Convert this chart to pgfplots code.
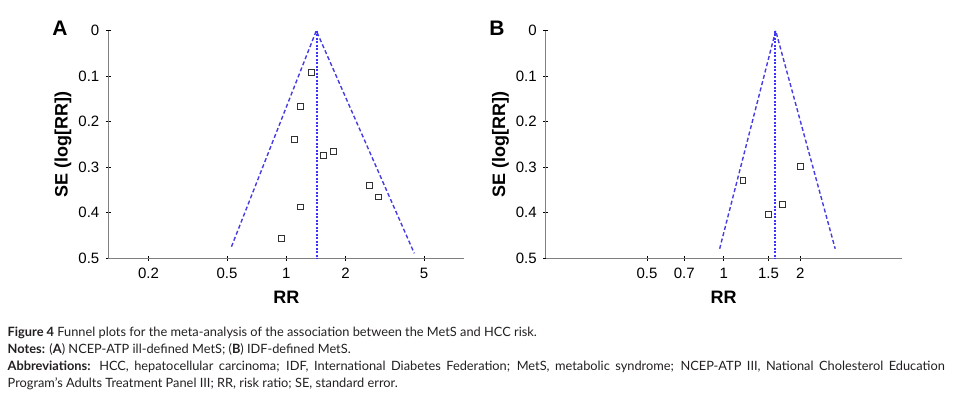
\documentclass[border=0pt]{standalone}
\usepackage{pgfplots}
\pgfplotsset{compat=1.18}
\usepackage{fontspec}
\setmainfont{Liberation Sans}
\newfontfamily\capfont{Lato}
\definecolor{funnelcol}{RGB}{70,60,225}
\definecolor{centercol}{RGB}{60,50,255}
\definecolor{axgray}{RGB}{128,128,128}
\definecolor{mk}{RGB}{50,50,50}
\definecolor{captxt}{RGB}{35,31,32}

\begin{document}
\begin{tikzpicture}
\path[use as bounding box] (0pt,0pt) rectangle (956pt,-396pt);

% Panel A
\begin{axis}[
  scale only axis, xmode=log,
  width=356pt, height=227.6pt,
  at={(108.3pt,-258.3pt)}, anchor=south west,
  xmin=0.125, xmax=8, ymin=-0.5, ymax=0,
  axis x line*=bottom, axis y line*=left,
  axis line style={axgray, line width=0.8pt},
  tick style={black, line width=0.6pt},
  tick align=center, major tick length=5pt,
  minor tick num=0,
  xtick={0.2,0.5,1,2,5}, xticklabels={0.2,0.5,1,2,5},
  ytick={-0.5,-0.4,-0.3,-0.2,-0.1,0},
  yticklabels={0.5,0.4,0.3,0.2,0.1,0},
  tick label style={font=\fontsize{15}{15}\selectfont},
  xticklabel style={yshift=-4pt},
  yticklabel style={xshift=-3pt},
  xlabel={RR}, ylabel={SE (log[RR])},
  label style={font=\fontsize{18}{18}\selectfont\bfseries},
  xlabel style={at={(axis description cs:0.5,-0.17)}, anchor=center},
  ylabel style={at={(axis description cs:-0.127,0.5)}, anchor=center},
  clip=false]
\addplot[color=funnelcol, line width=1.4pt, dash pattern=on 4pt off 2.5pt, mark=none] coordinates {(0.527,-0.4745) (1.42,0) (4.46,-0.489)};
\addplot[color=centercol, line width=1.5pt, dash pattern=on 2pt off 1.5pt, mark=none] coordinates {(1.43,0) (1.43,-0.5)};
\addplot[only marks, mark=square, mark size=2.9pt, color=mk, mark options={line width=0.75pt, solid}] coordinates {
 (1.343,-0.0914) (1.181,-0.167) (1.102,-0.238) (1.545,-0.274) (1.729,-0.265)
 (2.63,-0.340) (2.94,-0.365) (1.181,-0.387) (0.947,-0.457)};
\end{axis}

% Panel B
\begin{axis}[
  scale only axis, xmode=log,
  width=356pt, height=227.6pt,
  at={(545.7pt,-258.3pt)}, anchor=south west,
  xmin=0.2, xmax=5, ymin=-0.5, ymax=0,
  axis x line*=bottom, axis y line*=left,
  axis line style={axgray, line width=0.8pt},
  tick style={black, line width=0.6pt},
  tick align=center, major tick length=5pt,
  minor tick num=0,
  xtick={0.5,0.7,1,1.5,2}, xticklabels={0.5,0.7,1,1.5,2},
  ytick={-0.5,-0.4,-0.3,-0.2,-0.1,0},
  yticklabels={0.5,0.4,0.3,0.2,0.1,0},
  tick label style={font=\fontsize{15}{15}\selectfont},
  xticklabel style={yshift=-4pt},
  yticklabel style={xshift=-3pt},
  xlabel={RR}, ylabel={SE (log[RR])},
  label style={font=\fontsize{18}{18}\selectfont\bfseries},
  xlabel style={at={(axis description cs:0.5,-0.17)}, anchor=center},
  ylabel style={at={(axis description cs:-0.127,0.5)}, anchor=center},
  clip=false]
\addplot[color=funnelcol, line width=1.4pt, dash pattern=on 4pt off 2.5pt, mark=none] coordinates {(0.964,-0.479) (1.60,0) (2.74,-0.479)};
\addplot[color=centercol, line width=1.3pt, dash pattern=on 2pt off 1.5pt, mark=none] coordinates {(1.591,0) (1.591,-0.5)};
\addplot[only marks, mark=square, mark size=2.9pt, color=mk, mark options={line width=0.75pt, solid}] coordinates {
 (1.19,-0.329) (2.0,-0.298) (1.695,-0.381) (1.497,-0.404)};
\end{axis}

\node[font=\fontsize{21}{21}\selectfont\bfseries] at (60pt,-28pt) {A};
\node[font=\fontsize{21}{21}\selectfont\bfseries] at (497pt,-28.5pt) {B};

\begin{scope}[every node/.style={anchor=base west, inner sep=0pt, text=captxt, font=\capfont\fontsize{12.8}{13}\selectfont}]
\node at (7.5pt,-336.5pt) {\textbf{Figure 4} Funnel plots for the meta-analysis of the association between the MetS and HCC risk.};
\node at (7.5pt,-353.5pt) {\textbf{Notes:} (\textbf{A}) NCEP-ATP ill-defined MetS; (\textbf{B}) IDF-defined MetS.};
\node at (7.5pt,-370.5pt) {\makebox[937pt][s]{\textbf{Abbreviations:} HCC, hepatocellular carcinoma; IDF, International Diabetes Federation; MetS, metabolic syndrome; NCEP-ATP III, National Cholesterol Education}};
\node at (7.5pt,-387.5pt) {Program’s Adults Treatment Panel III; RR, risk ratio; SE, standard error.};
\end{scope}
\end{tikzpicture}
\end{document}
